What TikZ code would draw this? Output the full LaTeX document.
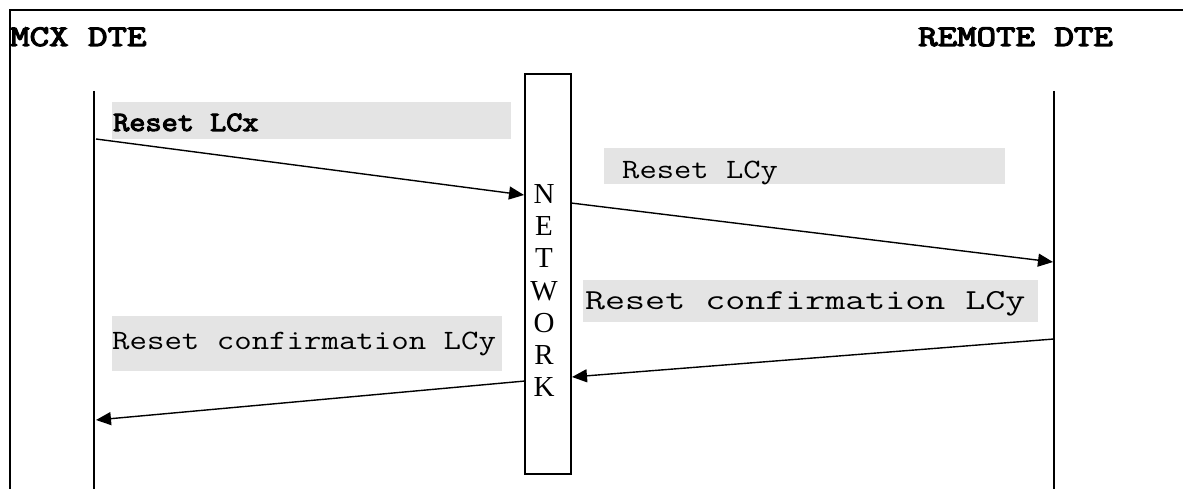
\documentclass[tikz,border=0pt]{standalone}
\usepackage{fontspec}
\usepackage{graphicx}
\setmainfont{Liberation Serif}
\newfontfamily\boldmono{Latin Modern Mono}[FakeBold=3.6]
\usetikzlibrary{arrows.meta}
\definecolor{labelgray}{HTML}{E4E4E4}
\begin{document}
\begin{tikzpicture}[x=1pt,y=-1pt,
  frame/.style={line width=2pt},
  lifeline/.style={line width=2pt},
  msg/.style={line width=1.4pt,-{Triangle[length=15pt,width=13pt]}},
  graybox/.style={fill=labelgray,draw=none,inner sep=0pt,anchor=north west},
  title/.style={inner sep=0pt,anchor=base west,font=\fontsize{30}{30}\selectfont\boldmono},
  lbl/.style={inner sep=0pt,anchor=base west}]
\useasboundingbox (0,0) rectangle (1183,489);
% frame
\draw[frame] (10,489) -- (10,10) -- (1183,10);
% titles
\node[title] (mcx) at (10,46) {\scalebox{1.26}[1]{MCX DTE}};
\node[title] (remote) at (918,46) {\scalebox{1.26}[1]{REMOTE DTE}};
% lifelines
\coordinate (Ltop) at (94,91);
\coordinate (Lbot) at (94,489);
\coordinate (Rtop) at (1054,91);
\coordinate (Rbot) at (1054,489);
\draw[lifeline] (Ltop) -- (Lbot);
\draw[lifeline] (Rtop) -- (Rbot);
% network box
\node[draw,line width=2pt,minimum width=46pt,minimum height=400pt,inner sep=0pt,outer sep=0pt,anchor=north west] (netbox) at (525,74) {};
\node[inner sep=0pt,align=center,font=\fontsize{29}{32.3}\selectfont\rmfamily,anchor=north] (net) at (544,184) {N\\E\\T\\W\\O\\R\\K};
% gray label boxes
\node[graybox,minimum width=399pt,minimum height=37pt] (g1) at (112,102) {};
\node[graybox,minimum width=401pt,minimum height=36pt] (g2) at (604,148) {};
\node[graybox,minimum width=455pt,minimum height=42pt] (g3) at (583,280) {};
\node[graybox,minimum width=390pt,minimum height=55pt] (g4) at (112,316) {};
% labels
\node[lbl,font=\fontsize{28}{28}\selectfont\boldmono] (t1) at (113,131) {\scalebox{1.12}[1]{Reset LCx}};
\node[lbl,font=\fontsize{28}{28}\selectfont\ttfamily] (t2) at (622,179) {\scalebox{1.2}[1]{Reset LCy}};
\node[lbl,font=\fontsize{29}{29}\selectfont\ttfamily] (t3) at (585,309) {\scalebox{1.34}[1]{Reset confirmation LCy}};
\node[lbl,font=\fontsize{28}{28}\selectfont\ttfamily] (t4) at (112,349) {\scalebox{1.21}[1]{Reset confirmation LCy}};
% message coordinates
\coordinate (m1s) at (96,139);
\coordinate (m1e) at (524,195);
\coordinate (m2s) at (571,203);
\coordinate (m2e) at (1053,262);
\coordinate (m3s) at (1054,339);
\coordinate (m3e) at (572,377);
\coordinate (m4s) at (525,381);
\coordinate (m4e) at (96,420);
\draw[msg] (m1s) -- (m1e);
\draw[msg] (m2s) -- (m2e);
\draw[msg] (m3s) -- (m3e);
\draw[msg] (m4s) -- (m4e);
\end{tikzpicture}
\end{document}
